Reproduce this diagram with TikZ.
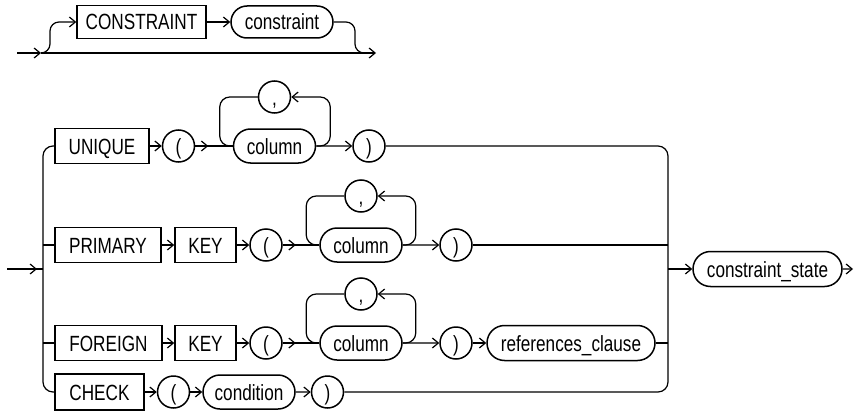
\documentclass[tikz,border=0pt]{standalone}
\usepackage{fontspec}
\setmainfont{Liberation Sans}[FakeStretch=0.78]
\usetikzlibrary{arrows.meta,shapes.misc}

\begin{document}
\begin{tikzpicture}[x=1pt, y=-1pt, line width=1.2pt,
  every node/.style={font=\fontsize{22}{26}\selectfont, inner sep=0pt, text height=16pt, text depth=0pt},
  kwbox/.style={draw, line width=1.5pt, rectangle, minimum height=35pt},
  ntbox/.style={draw, line width=1.5pt, rounded rectangle, minimum height=34pt},
  sym/.style={draw, line width=1.5pt, circle, minimum size=32pt},
  arr/.style={-{Straight Barb[length=6pt,width=10pt]}},
  railcurve/.style={rounded corners=10pt}]
  \useasboundingbox (0,0) rectangle (856,412);
  % optional constraint name
  \node[kwbox, minimum width=129pt, minimum height=33pt] (cons) at (141.5,22) {CONSTRAINT};
  \node[ntbox, minimum width=102pt, minimum height=32pt] (consname) at (282,22) {constraint};
  \coordinate (in0) at (17,53); \coordinate (j0) at (41,53); \coordinate (out0) at (376,53);
  \draw[arr] (in0) -- (j0);
  \draw[arr] (j0) -- (out0);
  \draw[arr, rounded corners=9pt] (j0) -| (50,22) -- (cons.west);
  \draw[arr] (cons) -- (consname);
  \draw[rounded corners=9pt] (consname.east) -| (355,53) -- (364,53);
  % UNIQUE
  \node[kwbox, minimum width=94pt] (uq) at (102,146) {UNIQUE};
  \node[sym] (lp1) at (178.5,146) {(};
  \node[ntbox, minimum width=82pt] (col1) at (274.5,146) {column};
  \node[sym] (cm1) at (274.5,97) {,};
  \node[sym] (rp1) at (369,146) {)};
  \draw[arr] (uq) -- (lp1);
  \draw (lp1) -- (col1); \draw[arr] (lp1.east) -- ++(13,0);
  \draw[arr] (col1) -- (rp1);
  \draw[arr, railcurve] (col1.east) -- ++(14,0) |- (cm1.east);
  \draw[railcurve] (cm1.west) -| ([xshift=-13pt]col1.west) -- (col1.west);
  % PRIMARY KEY
  \node[kwbox, minimum width=106pt] (pk) at (108,245) {PRIMARY};
  \node[kwbox, minimum width=61pt] (key2) at (205.5,245) {KEY};
  \node[sym] (lp2) at (266,245) {(};
  \node[ntbox, minimum width=82pt] (col2) at (361,245) {column};
  \node[sym] (cm2) at (361,196) {,};
  \node[sym] (rp2) at (456,245) {)};
  \draw[arr] (pk) -- (key2);
  \draw[arr] (key2) -- (lp2);
  \draw (lp2) -- (col2); \draw[arr] (lp2.east) -- ++(13,0);
  \draw[arr] (col2) -- (rp2);
  \draw[arr, railcurve] (col2.east) -- ++(13,0) |- (cm2.east);
  \draw[railcurve] (cm2.west) -| ([xshift=-13pt]col2.west) -- (col2.west);
  % FOREIGN KEY
  \node[kwbox, minimum width=107pt] (fk) at (108.5,343) {FOREIGN};
  \node[kwbox, minimum width=61pt] (key3) at (205.5,343) {KEY};
  \node[sym] (lp3) at (266,343) {(};
  \node[ntbox, minimum width=82pt] (col3) at (361,343) {column};
  \node[sym] (cm3) at (361,294) {,};
  \node[sym] (rp3) at (456,343) {)};
  \node[ntbox, minimum width=168pt, minimum height=35pt] (refc) at (571,343) {references\_clause};
  \draw[arr] (fk) -- (key3);
  \draw[arr] (key3) -- (lp3);
  \draw (lp3) -- (col3); \draw[arr] (lp3.east) -- ++(13,0);
  \draw[arr] (col3) -- (rp3);
  \draw[arr, railcurve] (col3.east) -- ++(13,0) |- (cm3.east);
  \draw[railcurve] (cm3.west) -| ([xshift=-13pt]col3.west) -- (col3.west);
  \draw[arr] (rp3) -- (refc);
  % CHECK
  \node[kwbox, minimum width=89pt, minimum height=36pt] (ck) at (99.5,392) {CHECK};
  \node[sym] (lp4) at (173.5,392) {(};
  \node[ntbox, minimum width=92pt] (cond) at (249,392) {condition};
  \node[sym] (rp4) at (327.5,392) {)};
  \draw[arr] (ck) -- (lp4);
  \draw[arr] (lp4) -- (cond);
  \draw[arr] (cond) -- (rp4);
  % spines and constraint state
  \node[ntbox, minimum width=149pt, minimum height=35pt] (cstate) at (767.5,269) {constraint\_state};
  \coordinate (in1) at (7,269); \coordinate (jl) at (43,269);
  \coordinate (jr) at (668,269); \coordinate (out1) at (853,269);
  \draw (in1) -- (jl); \draw[arr] (in1) -- ([xshift=-6pt]jl);
  \draw[railcurve] (uq.west) -| (ck.west -| jl) -- (ck.west);
  \draw (pk.west) -- (pk.west -| jl);
  \draw (fk.west) -- (fk.west -| jl);
  \draw[railcurve] (rp1.east) -| (rp4.east -| jr) -- (rp4.east);
  \draw (rp2.east) -- (rp2.east -| jr);
  \draw (refc.east) -- (refc.east -| jr);
  \draw[arr] (jr) -- (cstate);
  \draw[arr] (cstate) -- (out1);
\end{tikzpicture}
\end{document}
